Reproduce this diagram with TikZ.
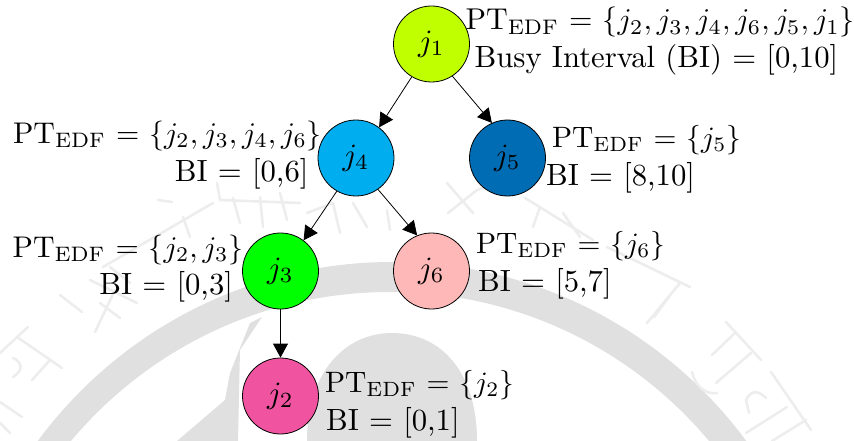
\documentclass[tikz,border=0pt]{standalone}
\usetikzlibrary{arrows.meta}
\definecolor{c1}{RGB}{191,255,0}
\definecolor{c4}{RGB}{0,174,239}
\definecolor{c5}{RGB}{0,108,180}
\definecolor{c3}{RGB}{0,255,0}
\definecolor{c6}{RGB}{255,184,184}
\definecolor{c2}{RGB}{240,84,160}
\definecolor{wm}{RGB}{224,224,224}
\definecolor{wmtext}{RGB}{237,237,237}
\newcommand{\jl}[1]{\scalebox{3.1}{$j_{#1}$}}
\begin{document}
\begin{tikzpicture}[x=1pt,y=-1pt,
 job/.style={circle,draw=black,line width=0.8pt,minimum size=76pt,inner sep=0pt},
 lab/.style={transform shape,inner sep=0pt},
 bi/.style={lab,scale=3.07},
 link/.style={-{Triangle[length=14pt,width=15pt]},line width=0.8pt},
 script/.style={draw=wmtext,line width=2.6pt,line cap=round,line join=round}]
\useasboundingbox (0,0) rectangle (854,441);
\begin{scope}
\clip (0,0) rectangle (854,441);
\fill[wm,even odd rule] (392,702) circle (440) (390,708) circle (416);
\fill[wm] (307,441) .. controls (307,372) and (345,333) .. (392,333) .. controls (441,333) and (477,372) .. (477,441) -- cycle;
\fill[wm] (250,323) -- (230,373) -- (225,400) -- (177,441) -- (238,441) -- (240,350) -- (262,317) -- cycle;
% seal lettering of the watermark
\draw[script] (726,322)--(761,360) (736,332)--(712,355) (751,353)--(716,383)
  (692,372) .. controls (695,385) and (705,395) .. (717,393)
  (771,372)--(811,430) (787,407)--(746,433) (772,441)--(806,420)
  (766,398) .. controls (760,392) and (752,388) .. (746,400) -- (749,413)
  (674,290)--(654,317) (647,323)--(680,283) (607,247)--(690,287)
  (447,183)--(473,213) (448,213)--(477,190)--(487,187)
  (525,198)--(593,240) (540,207)--(533,227) (563,213)--(580,237);
\draw[script] (60,295)--(82,312) (90,280)--(137,303) (115,290)--(95,332) (100,303)--(120,318)
  (17,337)--(62,368) (28,327)--(0,353) (50,360)--(32,380)
  (13,358) .. controls (22,362) and (24,370) .. (13,377)
  (0,402)--(22,417) (0,423)--(10,433)
  (158,200)--(172,202) (103,267)--(213,203) (183,217)--(190,237) (110,267)--(130,283)
  (220,200)--(300,203) (233,198)--(240,223) (260,197)--(263,227) (280,193)--(287,220)
  (217,183)--(220,200) (307,213)--(333,203)--(340,233) (353,203)--(367,227) (387,210)--(390,230);
\end{scope}
\node[job,fill=c1] (j1) at (431.5,44) {\jl1};
\node[job,fill=c4] (j4) at (356,158) {\jl4};
\node[job,fill=c5] (j5) at (507.5,158) {\jl5};
\node[job,fill=c3] (j3) at (280.5,271) {\jl3};
\node[job,fill=c6] (j6) at (431.5,271) {\jl6};
\node[job,fill=c2] (j2) at (280.5,396) {\jl2};
\draw[link] (j1.239)--(j4.53);
\draw[link] (j1.-57)--(j5.114.5);
\draw[link] (j4.240)--(j3.53);
\draw[link] (j4.-55)--(j6.112);
\draw[link] (j3.south)--(j2.north);
\node[lab,scale=3.01,anchor=base west] (a1) at (465,30) {PT$_{\mathrm{EDF}}$ = $\{j_2,j_3,j_4,j_6,j_5,j_1\}$};
\node[bi,anchor=base west] (a2) at (474,68) {Busy Interval (BI) = [0,10]};
\node[lab,scale=2.99,anchor=base east] (b1) at (322.5,143.5) {PT$_{\mathrm{EDF}}$ = $\{j_2,j_3,j_4,j_6\}$};
\node[bi,anchor=base east] (b2) at (309,181) {BI = [0,6]};
\node[lab,scale=2.95,anchor=base west] (c1) at (551.5,147) {PT$_{\mathrm{EDF}}$ = $\{j_5\}$};
\node[bi,anchor=base west] (c2) at (545.5,185) {BI = [8,10]};
\node[lab,scale=2.99,anchor=base east] (d1) at (244,257.5) {PT$_{\mathrm{EDF}}$ = $\{j_2,j_3\}$};
\node[bi,anchor=base east] (d2) at (233.5,294) {BI = [0,3]};
\node[lab,scale=2.95,anchor=base west] (e1) at (475.5,253) {PT$_{\mathrm{EDF}}$ = $\{j_6\}$};
\node[bi,anchor=base west] (e2) at (477.5,291) {BI = [5,7]};
\node[lab,scale=2.95,anchor=base west] (f1) at (324.5,392) {PT$_{\mathrm{EDF}}$ = $\{j_2\}$};
\node[bi,anchor=base west] (f2) at (325.5,430) {BI = [0,1]};
\end{tikzpicture}
\end{document}
